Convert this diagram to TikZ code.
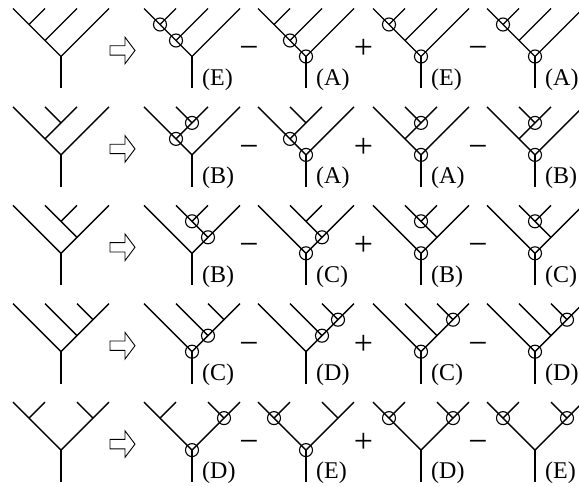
\documentclass[tikz,border=0pt]{standalone}
\usepackage{fontspec}
\setmainfont{Liberation Serif}

\newcommand\treebase{%
  \coordinate (-a) at (-48,-48);
  \coordinate (-b) at (-16,-48);
  \coordinate (-c) at (16,-48);
  \coordinate (-d) at (48,-48);
  \coordinate (-r) at (0,0);
  \coordinate (-s) at (0,32);
  \draw[branch] (-r) -- (-s);}
\newcommand\treeA{%
  \coordinate (-n1) at (-32,-32);
  \coordinate (-n2) at (-16,-16);
  \draw[branch] (-a) -- (-n1) -- (-n2) -- (-r) -- (-d)
                (-b) -- (-n1) (-c) -- (-n2);}
\newcommand\treeB{%
  \coordinate (-n1) at (0,-32);
  \coordinate (-n2) at (-16,-16);
  \draw[branch] (-a) -- (-n2) -- (-r) -- (-d)
                (-b) -- (-n1) -- (-c) (-n1) -- (-n2);}
\newcommand\treeC{%
  \coordinate (-n1) at (0,-32);
  \coordinate (-n2) at (16,-16);
  \draw[branch] (-a) -- (-r) -- (-n2) -- (-d)
                (-b) -- (-n1) -- (-c) (-n1) -- (-n2);}
\newcommand\treeD{%
  \coordinate (-n1) at (32,-32);
  \coordinate (-n2) at (16,-16);
  \draw[branch] (-a) -- (-r) -- (-n2) -- (-n1) -- (-d)
                (-b) -- (-n2) (-c) -- (-n1);}
\newcommand\treeE{%
  \coordinate (-n1) at (-32,-32);
  \coordinate (-n2) at (32,-32);
  \draw[branch] (-a) -- (-n1) -- (-r) -- (-n2) -- (-d)
                (-b) -- (-n1) (-c) -- (-n2);}

\tikzset{
  branch/.style={line width=1.4pt},
  ring/.style={line width=1.1pt},
  tag/.style={anchor=west, xshift=9pt, yshift=-23pt, inner sep=1pt,
              font=\fontsize{24}{24}\selectfont},
  op/.style={anchor=base, inner sep=0pt, font=\fontsize{34}{34}\selectfont},
  pics/tree/.style={code={\treebase\csname tree#1\endcsname}},
  pics/rewrite/.style={code={
    \draw[line width=0.9pt] (-12.5,-4.7) -- (2.5,-4.7) -- (2.5,-13.3) -- (12.5,0)
      -- (2.5,13.3) -- (2.5,4.7) -- (-12.5,4.7) -- cycle;}}
}

\begin{document}
\begin{tikzpicture}[x=1pt, y=-1pt]
 \path[use as bounding box] (0,0) rectangle (579,487);
 \clip (0,0) rectangle (579,487);
 \foreach \r/\s in {1/A, 2/B, 3/C, 4/D, 5/E}{
   \pgfmathsetmacro\y{56.5+98.4*(\r-1)}
   \pic (t\r1) at (61,\y) {tree=\s};
   \pic (arr\r) at (122.5,\y-6) {rewrite};
   \node[op] (ma\r) at (249,\y+2.5) {−};
   \node[op] (pl\r) at (363.5,\y+2.5) {+};
   \node[op] (mb\r) at (478,\y+2.5) {−};
   \foreach \k/\x in {2/192, 3/306, 4/421, 5/535}
     \pic (t\r\k) at (\x,\y) {tree=\s};
 }
 \foreach \r/\k/\l/\c in {1/2/E/{n1,n2}, 1/3/A/{n2,r}, 1/4/E/{n1,r}, 1/5/A/{n1,r},
                          2/2/B/{n1,n2}, 2/3/A/{n2,r}, 2/4/A/{n1,r}, 2/5/B/{n1,r},
                          3/2/B/{n1,n2}, 3/3/C/{n2,r}, 3/4/B/{n1,r}, 3/5/C/{n1,r},
                          4/2/C/{n2,r},  4/3/D/{n1,n2}, 4/4/C/{n1,r}, 4/5/D/{n1,r},
                          5/2/D/{n2,r},  5/3/E/{n1,r}, 5/4/D/{n1,n2}, 5/5/E/{n1,n2}}{
   \node[tag] (lab\r\k) at (t\r\k-r) {(\l)};
   \foreach \p in \c
     \draw[ring] (t\r\k-\p) circle[radius=6.5];
 }
\end{tikzpicture}
\end{document}
